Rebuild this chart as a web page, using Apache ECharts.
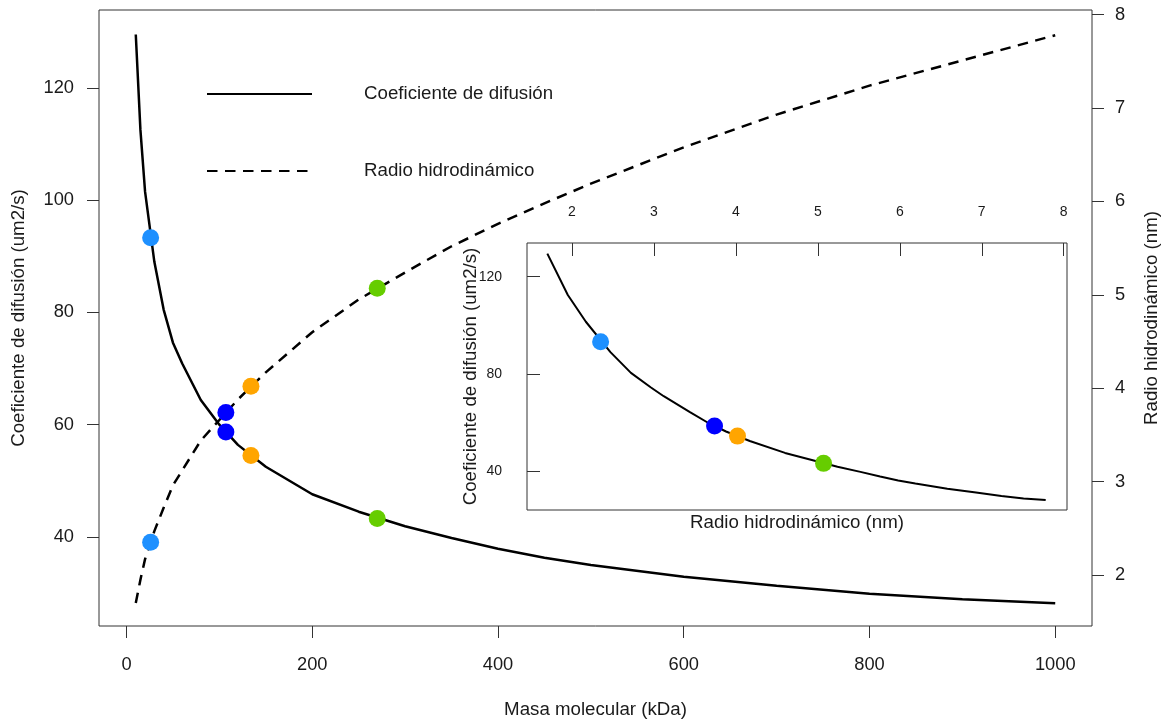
<!DOCTYPE html>
<html>
<head>
<meta charset="utf-8">
<script src="https://cdn.jsdelivr.net/npm/echarts@6/dist/echarts.min.js"></script>
<style>
  html, body { margin: 0; padding: 0; background: #fff; }
  #chart { width: 1162px; height: 719px; }
</style>
</head>
<body>
<div id="chart"></div>
<script>
// Molecular mass (kDa) sampled along the curves
const massKDa = [10, 15, 20, 30, 40, 50, 60, 80, 100, 120, 150, 200, 250, 300, 350, 400, 450, 500, 600, 700, 800, 900, 1000];
// Diffusion coefficient (um2/s) at each mass
const diffusion = [129.5, 112.5, 101.5, 89.0, 80.5, 74.6, 70.9, 64.4, 60.0, 56.4, 52.5, 47.6, 44.5, 41.9, 39.8, 37.9, 36.3, 35.0, 32.9, 31.3, 29.9, 28.9, 28.2];
// Hydrodynamic radius (nm) at each mass
const radius = [1.70, 1.95, 2.17, 2.47, 2.72, 2.96, 3.12, 3.44, 3.66, 3.88, 4.17, 4.60, 4.95, 5.24, 5.52, 5.76, 5.98, 6.19, 6.58, 6.93, 7.24, 7.51, 7.78];

// Highlighted proteins
const markerMass = [26, 107, 134, 270];
const markerDiffusion = [93.3, 58.7, 54.5, 43.3];
const markerRadius = [2.35, 3.74, 4.02, 5.07];
const markerColors = ['#1E90FF', '#0000FF', '#FFA500', '#66CD00'];

// Tick values
const massTicks = [0, 200, 400, 600, 800, 1000];
const diffTicks = [40, 60, 80, 100, 120];
const radiusTicks = [2, 3, 4, 5, 6, 7, 8];
const insetDiffTicks = [40, 80, 120];
const insetRadiusTicks = [2, 3, 4, 5, 6, 7, 8];

const FONT = "'Liberation Sans', Arial, sans-serif";
const TXT = '#1a1a1a';
const AX = '#333';

const zip = (a, b) => a.map((v, i) => [v, b[i]]);
const markerData = (xs, ys) => xs.map((x, i) => ({ value: [x, ys[i]], itemStyle: { color: markerColors[i], opacity: 1 } }));

const chart = echarts.init(document.getElementById('chart'), null, { renderer: 'canvas' });

const tickCommon = (vals, len, inside) => ({ show: true, customValues: vals, length: len, inside: inside, lineStyle: { color: AX, width: 1 } });
const labelCommon = (vals, size, margin) => ({
  show: true, customValues: vals, fontSize: size, color: TXT, fontFamily: FONT, margin: margin,
  formatter: (v) => String(v)
});
const noLine = { show: false, onZero: false };
const nameStyle = { fontSize: 18.7, color: TXT, fontFamily: FONT };

chart.setOption({
  animation: false,
  backgroundColor: '#fff',
  textStyle: { fontFamily: FONT },
  legend: {
    data: ['Coeficiente de difusión', 'Radio hidrodinámico'],
    orient: 'vertical',
    left: 206,
    top: 84,
    padding: 0,
    itemWidth: 105,
    itemHeight: 20,
    itemGap: 57,
    selectedMode: false,
    itemStyle: { color: 'rgba(0,0,0,0)', borderColor: 'rgba(0,0,0,0)', borderWidth: 0 },
    textStyle: { fontSize: 18.7, color: TXT, fontFamily: FONT, lineHeight: 20, padding: [0, 0, 0, 47] }
  },
  grid: [
    { left: 99, top: 10, width: 993, height: 616, show: true, borderColor: AX, borderWidth: 1, backgroundColor: 'transparent', outerBoundsMode: 'none', containLabel: false },
    { left: 527, top: 243, width: 540, height: 267, show: true, borderColor: AX, borderWidth: 1, backgroundColor: '#fff', outerBoundsMode: 'none', containLabel: false }
  ],
  xAxis: [
    {
      gridIndex: 0, type: 'value', min: -29.6, max: 1039.6, position: 'bottom',
      axisLine: noLine, splitLine: { show: false },
      axisTick: tickCommon(massTicks, 12, false),
      axisLabel: labelCommon(massTicks, 18.3, 30),
      name: 'Masa molecular (kDa)', nameLocation: 'middle', nameGap: 74, nameMoveOverlap: false,
      nameTextStyle: nameStyle
    },
    {
      gridIndex: 1, type: 'value', min: 1.452, max: 8.04, position: 'top',
      axisLine: noLine, splitLine: { show: false },
      axisTick: tickCommon(insetRadiusTicks, 13, true),
      axisLabel: labelCommon(insetRadiusTicks, 14, 24)
    },
    {
      gridIndex: 1, type: 'value', min: 1.452, max: 8.04, position: 'bottom',
      axisLine: noLine, splitLine: { show: false },
      axisTick: { show: false }, axisLabel: { show: false },
      name: 'Radio hidrodinámico (nm)', nameLocation: 'middle', nameGap: 3, nameMoveOverlap: false,
      nameTextStyle: nameStyle
    }
  ],
  yAxis: [
    {
      gridIndex: 0, type: 'value', min: 24.14, max: 133.86, position: 'left',
      axisLine: noLine, splitLine: { show: false },
      axisTick: tickCommon(diffTicks, 12, false),
      axisLabel: labelCommon(diffTicks, 18.3, 25),
      name: 'Coeficiente de difusión (um2/s)', nameLocation: 'middle', nameGap: 71, nameMoveOverlap: false,
      nameTextStyle: nameStyle
    },
    {
      gridIndex: 0, type: 'value', min: 1.454, max: 8.05, position: 'right',
      axisLine: noLine, splitLine: { show: false },
      axisTick: tickCommon(radiusTicks, 12, false),
      axisLabel: labelCommon(radiusTicks, 18.3, 23),
      name: 'Radio hidrodinámico (nm)', nameLocation: 'middle', nameGap: 50, nameMoveOverlap: false,
      nameTextStyle: nameStyle
    },
    {
      gridIndex: 1, type: 'value', min: 24.14, max: 133.86, position: 'left',
      axisLine: noLine, splitLine: { show: false },
      axisTick: tickCommon(insetDiffTicks, 13, true),
      axisLabel: labelCommon(insetDiffTicks, 14, 25),
      name: 'Coeficiente de difusión (um2/s)', nameLocation: 'middle', nameGap: 47, nameMoveOverlap: false,
      nameTextStyle: nameStyle
    }
  ],
  series: [
    {
      name: 'Coeficiente de difusión', type: 'line', xAxisIndex: 0, yAxisIndex: 0,
      data: zip(massKDa, diffusion), symbol: 'none', showSymbol: false, smooth: false,
      lineStyle: { color: '#000', width: 2.5, type: 'solid' }, itemStyle: { color: '#000' }, z: 2
    },
    {
      name: 'Radio hidrodinámico', type: 'line', xAxisIndex: 0, yAxisIndex: 1,
      data: zip(massKDa, radius), symbol: 'none', showSymbol: false, smooth: false,
      lineStyle: { color: '#000', width: 2.5, type: [10.5, 7.5] }, itemStyle: { color: '#000' }, z: 2
    },
    {
      type: 'scatter', xAxisIndex: 0, yAxisIndex: 0, symbol: 'circle', symbolSize: 17,
      data: markerData(markerMass, markerDiffusion), z: 5, silent: true
    },
    {
      type: 'scatter', xAxisIndex: 0, yAxisIndex: 1, symbol: 'circle', symbolSize: 17,
      data: markerData(markerMass, markerRadius), z: 5, silent: true
    },
    {
      type: 'line', xAxisIndex: 1, yAxisIndex: 2,
      data: zip(radius, diffusion), symbol: 'none', showSymbol: false, smooth: false,
      lineStyle: { color: '#000', width: 2, type: 'solid' }, z: 3
    },
    {
      type: 'scatter', xAxisIndex: 1, yAxisIndex: 2, symbol: 'circle', symbolSize: 17,
      data: markerData(markerRadius, markerDiffusion), z: 6, silent: true
    }
  ]
});
</script>
</body>
</html>
